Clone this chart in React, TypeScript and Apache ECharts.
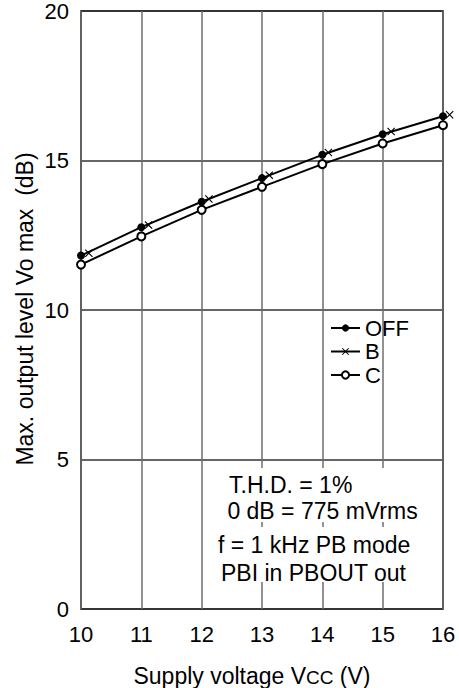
import React, { useEffect, useRef } from 'react';
import * as echarts from 'echarts';

// Supply voltage Vcc (V)
const voltages = [10, 11, 12, 13, 14, 15, 16];
// Max. output level (dB), mode OFF
const offLevel = [11.82, 12.77, 13.62, 14.41, 15.19, 15.88, 16.48];
// Mode B markers (drawn slightly right of each voltage in the original)
const bVoltages = [10.13, 11.12, 12.12, 13.12, 14.1, 15.14, 16.11];
const bLevel = [11.9, 12.84, 13.71, 14.51, 15.27, 15.97, 16.53];
// Mode C
const cLevel = [11.52, 12.46, 13.35, 14.12, 14.88, 15.57, 16.18];

const seriesNames = ['OFF', 'B', 'C'];
const noteLines = ['T.H.D. = 1%', ' 0 dB = 775 mVrms', 'f = 1 kHz PB mode', 'PBI in PBOUT out'];

const FONT = '"Liberation Sans", Arial, Helvetica, sans-serif';
const CROSS = 'path://M0,1L1,0L5,4L9,0L10,1L6,5L10,9L9,10L5,6L1,10L0,9L4,5Z';

export default function App() {
  const ref = useRef<HTMLDivElement>(null);
  useEffect(() => {
    const chart = echarts.init(ref.current!, null, { renderer: 'svg' });
    const pairs = (xs: number[], ys: number[]) => xs.map((x, i) => [x, ys[i]]);
    chart.setOption({
      animation: false,
      backgroundColor: '#fff',
      textStyle: { fontFamily: FONT, color: '#000' },
      grid: {
        left: 81, right: 16, top: 10, bottom: 79,
        show: true, borderColor: '#000', borderWidth: 1.5,
      },
      xAxis: {
        type: 'value', min: 10, max: 16, interval: 1,
        axisLine: { show: false }, axisTick: { show: false },
        splitLine: { show: true, lineStyle: { color: '#6e6e6e', width: 1.5 } },
        axisLabel: { fontSize: 22, color: '#000', margin: 14, fontFamily: FONT },
      },
      yAxis: {
        type: 'value', min: 0, max: 20, interval: 5,
        axisLine: { show: false }, axisTick: { show: false },
        splitLine: { show: true, lineStyle: { color: '#333', width: 1.5 } },
        axisLabel: { fontSize: 22, color: '#000', margin: 12, fontFamily: FONT, padding: [8, 0, 0, 0] },
      },
      legend: {
        orient: 'vertical', left: 325, top: 312,
        itemWidth: 29, itemHeight: 9, itemGap: 1.5,
        textStyle: { fontSize: 22, lineHeight: 22, color: '#000', fontFamily: FONT },
        data: [
          { name: seriesNames[0] },
          { name: seriesNames[1], lineStyle: { opacity: 1, width: 2, color: '#000' } },
          { name: seriesNames[2] },
        ],
      },
      series: [
        {
          name: seriesNames[0], type: 'line', data: pairs(voltages, offLevel),
          symbol: 'circle', symbolSize: 8, showAllSymbol: true,
          lineStyle: { color: '#000', width: 2 }, itemStyle: { color: '#000' }, z: 3,
        },
        {
          name: seriesNames[1], type: 'line', data: pairs(bVoltages, bLevel),
          symbol: CROSS, symbolSize: 8, clip: false,
          lineStyle: { color: '#000', width: 2, opacity: 0 }, itemStyle: { color: '#000' }, z: 4,
        },
        {
          name: seriesNames[2], type: 'line', data: pairs(voltages, cLevel),
          symbol: 'emptyCircle', symbolSize: 8,
          lineStyle: { color: '#000', width: 2 },
          itemStyle: { color: '#000', borderColor: '#000', borderWidth: 1.2 }, z: 3,
        },
      ],
      graphic: [
        { type: 'rect', z: 50, shape: { x: 204, y: 468, width: 237, height: 54 }, style: { fill: '#fff' } },
        { type: 'rect', z: 50, shape: { x: 204, y: 527, width: 237, height: 55 }, style: { fill: '#fff' } },
        { type: 'text', z: 51, x: 229, y: 485, style: { text: noteLines[0], fontSize: 23, fontFamily: FONT, fill: '#000', align: 'left', verticalAlign: 'middle' } },
        { type: 'text', z: 51, x: 221, y: 511, style: { text: noteLines[1], fontSize: 23, fontFamily: FONT, fill: '#000', align: 'left', verticalAlign: 'middle' } },
        { type: 'text', z: 51, x: 218, y: 545, style: { text: noteLines[2], fontSize: 23, fontFamily: FONT, fill: '#000', align: 'left', verticalAlign: 'middle' } },
        { type: 'text', z: 51, x: 221, y: 573, style: { text: noteLines[3], fontSize: 23, fontFamily: FONT, fill: '#000', align: 'left', verticalAlign: 'middle' } },
        {
          type: 'text', z: 51, x: 25, y: 309, rotation: Math.PI / 2,
          style: { text: 'Max. output level Vo max  (dB)', fontSize: 23, fontFamily: FONT, fill: '#000', align: 'center', verticalAlign: 'middle' },
        },
        {
          type: 'text', z: 51, x: 252, y: 674,
          style: {
            text: '{a|Supply voltage V}{b|CC}{a| (V)}',
            fontSize: 23, fontFamily: FONT, fill: '#000', align: 'center', verticalAlign: 'middle',
            rich: {
              a: { fontSize: 23, fontFamily: FONT, fill: '#000', verticalAlign: 'bottom', lineHeight: 26 },
              b: { fontSize: 19, fontFamily: FONT, fill: '#000', verticalAlign: 'bottom', lineHeight: 23 },
            },
          },
        },
      ],
    });
    return () => chart.dispose();
  }, []);
  return <div ref={ref} style={{ position: 'fixed', left: 0, top: 0, width: 459, height: 688 }} />;
}
